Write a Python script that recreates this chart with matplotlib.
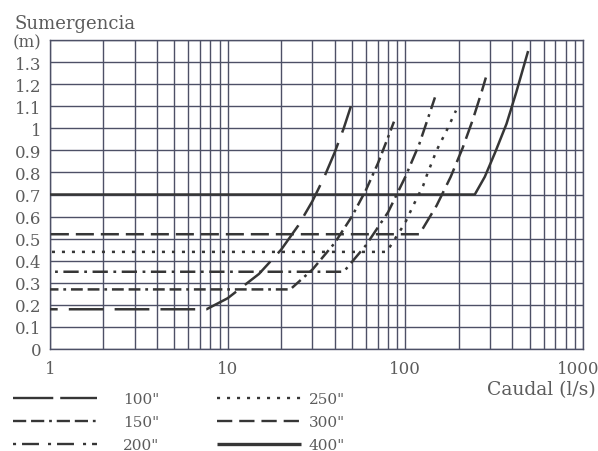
import matplotlib
matplotlib.use("Agg")
import numpy as np
import matplotlib.pyplot as plt
import matplotlib.transforms as mtransforms
from matplotlib.lines import Line2D
from matplotlib.ticker import FixedLocator, LogLocator, NullFormatter, FixedFormatter

plt.rcParams['font.family'] = ['DejaVu Serif']
plt.rcParams['lines.scale_dashes'] = False

# Caudal (l/s) vs sumergencia (m) for each diameter
q_100 = [1, 7.6, 10, 15, 20, 25, 30, 35, 40, 45, 49.4]
h_100 = [0.18, 0.18, 0.23, 0.34, 0.45, 0.56, 0.67, 0.78, 0.89, 1.00, 1.10]

q_150 = [1, 22.5, 30, 40, 50, 60, 70, 80, 86.3]
h_150 = [0.27, 0.27, 0.36, 0.48, 0.60, 0.72, 0.84, 0.96, 1.03]

q_200 = [1, 45, 60, 80, 100, 120, 140, 146.8]
h_200 = [0.35, 0.35, 0.47, 0.62, 0.78, 0.93, 1.09, 1.14]

q_250 = [1, 78.5, 99.5, 110.8, 126, 131.8, 150, 170.8, 192.7]
h_250 = [0.44, 0.44, 0.57, 0.65, 0.74, 0.785, 0.90, 0.99, 1.08]

q_300 = [1, 120, 150, 180, 210, 240, 270, 284]
h_300 = [0.52, 0.52, 0.65, 0.78, 0.91, 1.04, 1.17, 1.23]

q_400 = [1, 246, 280, 320, 371, 420, 491]
h_400 = [0.70, 0.70, 0.78, 0.89, 1.02, 1.16, 1.35]

labels = ['100"', '150"', '200"', '250"', '300"', '400"']
y_ticks = [0, 0.1, 0.2, 0.3, 0.4, 0.5, 0.6, 0.7, 0.8, 0.9, 1.0, 1.1, 1.2, 1.3, 1.4]
y_tick_labels = ['0', '0.1', '0.2', '0.3', '0.4', '0.5', '0.6', '0.7', '0.8',
                 '0.9', '1', '1.1', '1.2', '1.3', '(m)']
x_ticks = [1, 10, 100, 1000]
x_tick_labels = ['1', '10', '100', '1000']

series = [(q_100, h_100), (q_150, h_150), (q_200, h_200),
          (q_250, h_250), (q_300, h_300), (q_400, h_400)]

# dash patterns (points) used on the chart and in the key
plot_dashes = [(25, 8), (8.5, 3.5, 8.5, 3.5, 2, 3.5), (11, 4, 2, 4),
               (2.2, 5), (13, 5), None]
key_styles = [(0, (29, 5)), (0, (9.5, 3.5, 9.5, 3.5, 2, 3.5)), (0, (2.2, 4.3, 12.2, 6.5)),
              (0, (2.2, 5)), (0, (11, 5)), '-']

text_color = '#5c5c5c'
line_color = '#363636'
grid_color = '#4d5066'

fig = plt.figure(figsize=(5.98, 4.52), dpi=100)
ax = fig.add_axes([50 / 598, 1 - 350 / 452, 533 / 598, 309 / 452])

ax.set_xscale('log')
ax.set_xlim(1, 1000)
ax.set_ylim(0, 1.4)

lines = []
for (q, h), d in zip(series, plot_dashes):
    ln, = ax.plot(q, h, linestyle='-' if d is None else (0, d), color=line_color,
                  lw=1.8, solid_capstyle='butt', dash_capstyle='butt', zorder=3)
    lines.append(ln)

ax.xaxis.set_major_locator(FixedLocator(x_ticks))
ax.xaxis.set_major_formatter(FixedFormatter(x_tick_labels))
ax.xaxis.set_minor_locator(LogLocator(base=10, subs=range(2, 10)))
ax.xaxis.set_minor_formatter(NullFormatter())
ax.yaxis.set_major_locator(FixedLocator(y_ticks))
ax.yaxis.set_major_formatter(FixedFormatter(y_tick_labels))

ax.grid(True, which='both', axis='x', color=grid_color, lw=1.0)
ax.grid(True, which='major', axis='y', color=grid_color, lw=1.0)
ax.tick_params(which='both', length=0)
ax.tick_params(axis='y', pad=6, labelsize=12, labelcolor=text_color)
ax.tick_params(axis='x', pad=8, labelsize=12, labelcolor=text_color)
for s in ax.spines.values():
    s.set_color(grid_color)
    s.set_linewidth(1.0)

fig.canvas.draw()

# shift each dash pattern so that the rising branch ends on a drawn dash
for ln, d in zip(lines, plot_dashes):
    if d is None:
        continue
    xy = ax.transData.transform(np.column_stack(ln.get_data()))
    length_pt = np.hypot(*np.diff(xy, axis=0).T).sum() * 72 / fig.dpi
    period = sum(d)
    offset = (d[0] * 0.8 - length_pt) % period
    ln.set_linestyle((offset, d))

# keep the last decade label inside the figure
last = ax.get_xticklabels()[-1]
last.set_transform(last.get_transform() +
                   mtransforms.ScaledTranslation(-5 / 100, 0, fig.dpi_scale_trans))

fig.text(15 / 598, 1 - 24 / 452, 'Sumergencia', ha='left', va='center',
         fontsize=13, color=text_color)
fig.text(596 / 598, 1 - 390 / 452, 'Caudal (l/s)', ha='right', va='center',
         fontsize=13.5, color=text_color)

key_handles = [Line2D([], [], color=line_color, lw=2.4 if ls == '-' else 1.7,
                      linestyle=ls, dash_capstyle='butt', solid_capstyle='butt')
               for ls in key_styles]

key_kw = dict(frameon=False, loc='upper left', fontsize=11, handlelength=5.5,
              labelspacing=0.6, borderpad=0, borderaxespad=0)
leg1 = fig.legend(handles=key_handles[:3], labels=labels[:3], handletextpad=1.7,
                  bbox_to_anchor=(13 / 598, 1 - 393 / 452), **key_kw)
leg2 = fig.legend(handles=key_handles[3:], labels=labels[3:], handletextpad=0.5,
                  bbox_to_anchor=(217 / 598, 1 - 393 / 452), **key_kw)
for leg in (leg1, leg2):
    for t in leg.get_texts():
        t.set_color(text_color)

fig.savefig('out.png', dpi=100)
